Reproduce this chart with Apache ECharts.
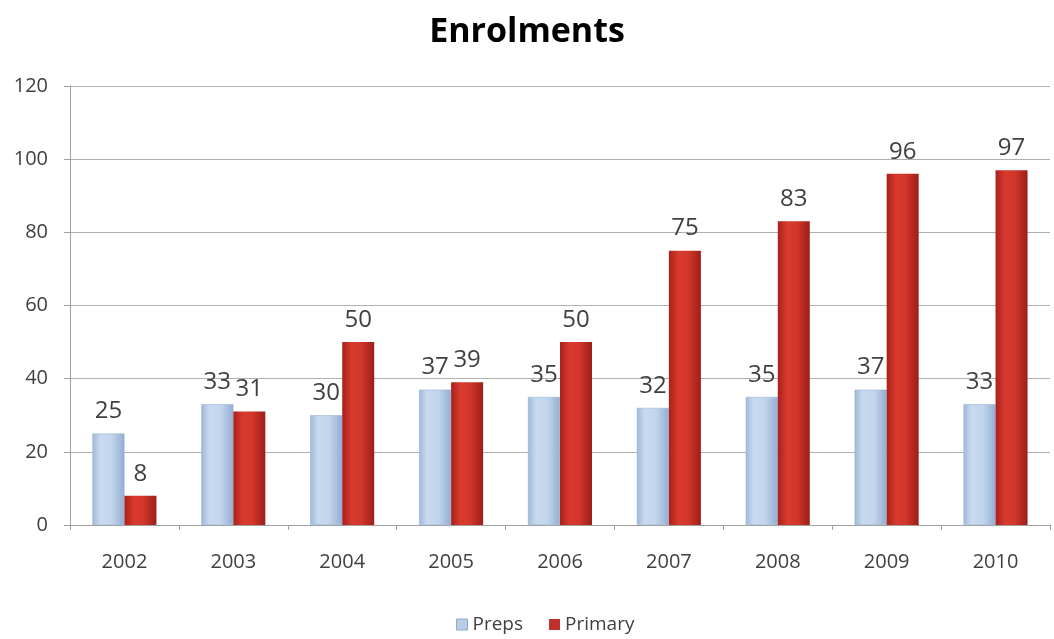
<!DOCTYPE html>
<html><head><meta charset="utf-8">
<script src="https://cdn.jsdelivr.net/npm/echarts@6/dist/echarts.min.js"></script>
<style>html,body{margin:0;padding:0;background:#fff}#c{width:1054px;height:639px}</style>
</head><body><div id="c"></div>
<script>
const categories = ['2002','2003','2004','2005','2006','2007','2008','2009','2010'];
const preps = [25,33,30,37,35,32,35,37,33];
const primary = [8,31,50,39,50,75,83,96,97];
const yTicks = {min:0, max:120, interval:20};

const chart = echarts.init(document.getElementById('c'));
const blue = new echarts.graphic.LinearGradient(0,0,1,0,[
  {offset:0,color:'#9fb8d8'},{offset:0.25,color:'#c8daf0'},{offset:0.6,color:'#c2d5ec'},{offset:1,color:'#93aed2'}]);
const red = new echarts.graphic.LinearGradient(0,0,1,0,[
  {offset:0,color:'#a8211c'},{offset:0.3,color:'#d93a2e'},{offset:0.6,color:'#d2362b'},{offset:1,color:'#9c1e18'}]);
const lbl = {show:true, position:'top', distance:10, fontSize:24, color:'#404040', fontFamily:'Open Sans'};
chart.setOption({
  animation:false,
  title:{text:'Enrolments', left:'center', top:10, textStyle:{fontFamily:'Open Sans', fontWeight:'bold', fontSize:34, color:'#000'}},
  grid:{left:70, right:4, top:86, bottom:114, containLabel:false},
  legend:{bottom:0, left:451, itemWidth:11, itemHeight:11, itemGap:26, textStyle:{fontFamily:'Open Sans', fontSize:19, color:'#404040'},
    data:[{name:'Preps', icon:'rect', itemStyle:{color:'#b9cde5', borderColor:'#8eaad0', borderWidth:1}},
          {name:'Primary', icon:'rect', itemStyle:{color:'#c0302a'}}]},
  xAxis:{type:'category', data:categories,
    axisLine:{lineStyle:{color:'#a0a0a0', width:1}},
    axisTick:{show:true, alignWithLabel:false, length:5, lineStyle:{color:'#a0a0a0'}},
    axisLabel:{fontFamily:'Open Sans', fontSize:20, color:'#404040', margin:27}},
  yAxis:{type:'value', min:yTicks.min, max:yTicks.max, interval:yTicks.interval,
    axisLine:{show:true, lineStyle:{color:'#a0a0a0'}},
    axisTick:{show:true, length:6, lineStyle:{color:'#a0a0a0'}},
    splitLine:{lineStyle:{color:'#b0b0b0'}},
    axisLabel:{fontFamily:'Open Sans', fontSize:20, color:'#404040', margin:22}},
  series:[
    {name:'Preps', type:'bar', data:preps, barWidth:32, barGap:'0%', itemStyle:{color:blue, borderColor:'#8eaad0', borderWidth:0.5}, label:lbl},
    {name:'Primary', type:'bar', data:primary, barWidth:32, itemStyle:{color:red}, label:lbl}
  ]
});
</script></body></html>
